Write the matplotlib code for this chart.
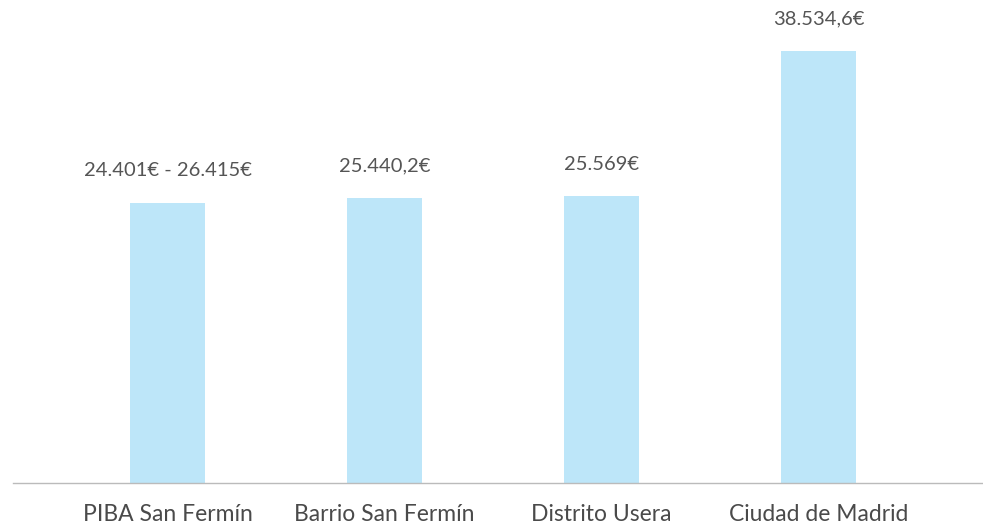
import matplotlib.pyplot as plt

categories = ["PIBA San Fermín", "Barrio San Fermín", "Distrito Usera", "Ciudad de Madrid"]
values = [24976, 25440.2, 25569, 38534.6]
value_labels = ["24.401€ - 26.415€", "25.440,2€", "25.569€", "38.534,6€"]

plt.rcParams["font.family"] = ["Lato", "DejaVu Sans"]

fig = plt.figure(figsize=(9.83, 5.27), dpi=100)
ax = fig.add_axes([13 / 983, 44 / 527, 970 / 983, 483 / 527])

x = list(range(len(categories)))
ax.bar(x, values, width=0.346, color="#bde6f9")

# value labels above each bar
for xi, v, lab in zip(x, values, value_labels):
    ax.annotate(lab, (xi, v), xytext=(0, 17), textcoords="offset points",
                ha="center", va="bottom", fontsize=14.5, color="#555555")

ax.set_xlim(-0.712, 3.758)
ax.set_ylim(0, 43084)
ax.set_xticks(x)
ax.set_xticklabels(categories, fontsize=16.5, color="#4a4a4a")
ax.tick_params(axis="x", length=0, pad=15)
ax.set_yticks([])
for s in ["top", "right", "left"]:
    ax.spines[s].set_visible(False)
ax.spines["bottom"].set_color("#bbbbbb")
ax.spines["bottom"].set_linewidth(1)

fig.savefig("out.png", dpi=100)
